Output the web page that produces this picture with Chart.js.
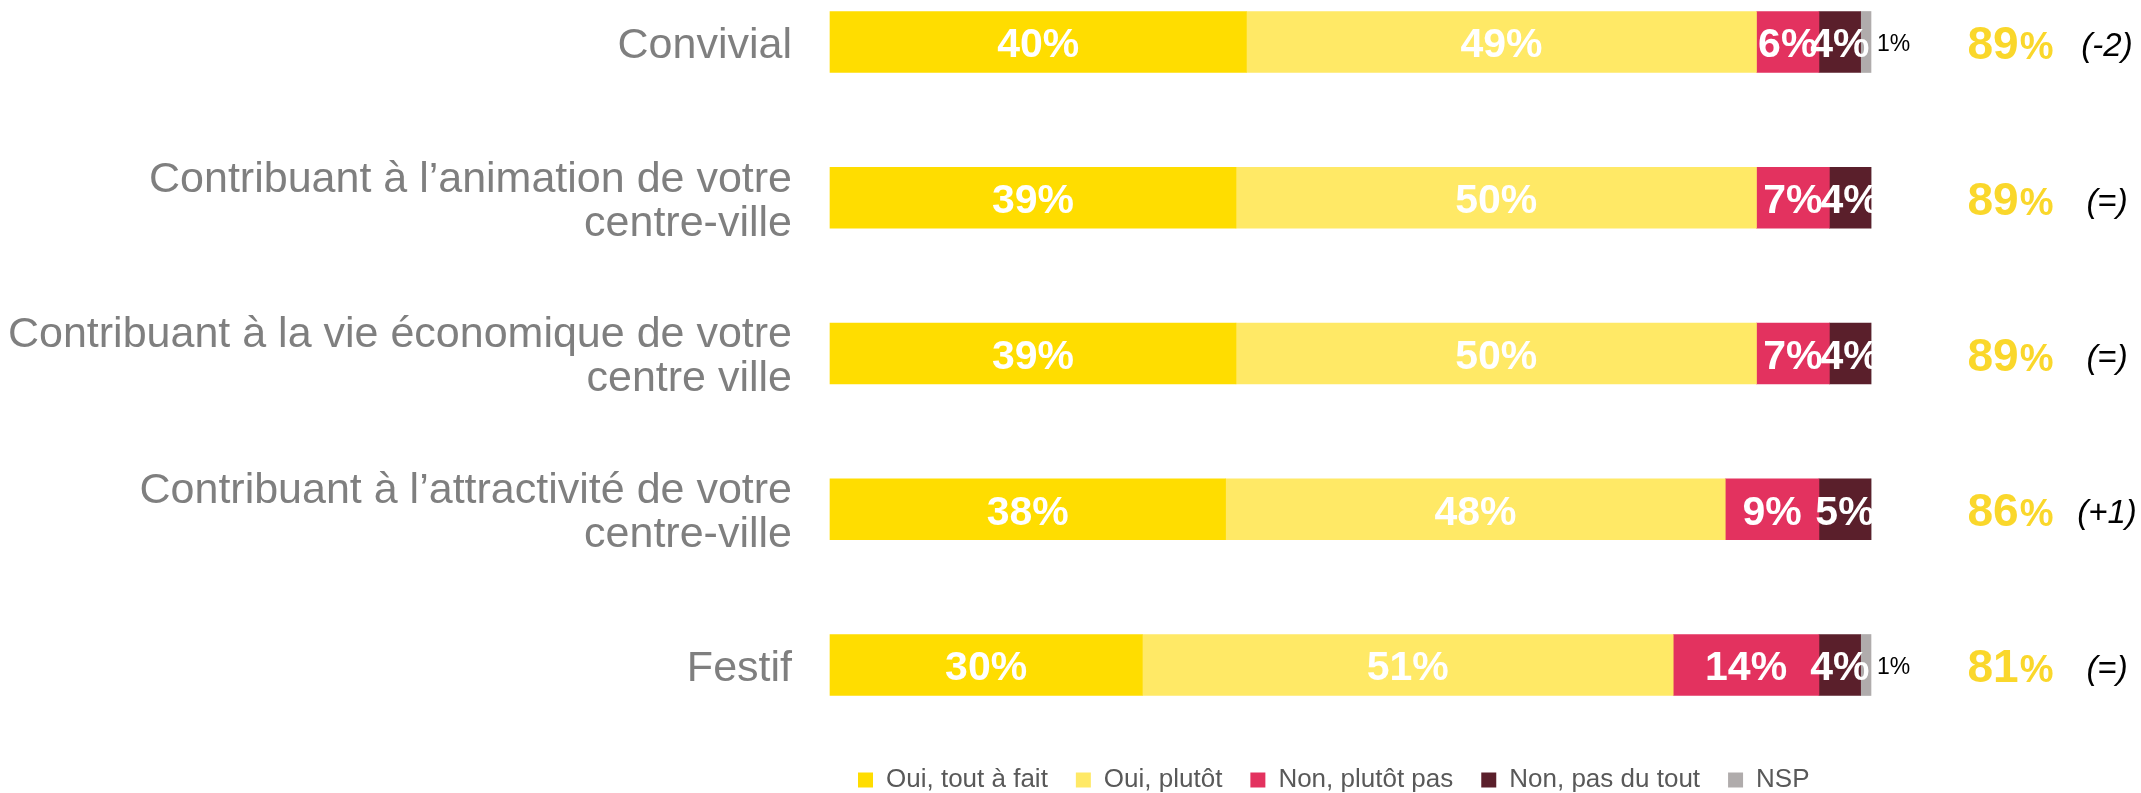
<!DOCTYPE html>
<html>
<head>
<meta charset="utf-8">
<title>Perception du centre-ville</title>
<script src="https://cdn.jsdelivr.net/npm/chart.js@4.4.1/dist/chart.umd.min.js"></script>
<style>
  html, body { margin: 0; padding: 0; background: #fff; }
</style>
</head>
<body>
<canvas id="chart" width="2141" height="793"></canvas>
<script>
// Categories (multi-line labels as arrays)
const categories = [
  'Convivial',
  ['Contribuant à l’animation de votre', 'centre-ville'],
  ['Contribuant à la vie économique de votre', 'centre ville'],
  ['Contribuant à l’attractivité de votre', 'centre-ville'],
  'Festif'
];

const seriesNames = ['Oui, tout à fait', 'Oui, plutôt', 'Non, plutôt pas', 'Non, pas du tout', 'NSP'];
const ouiToutAFait = [40, 39, 39, 38, 30];
const ouiPlutot = [49, 50, 50, 48, 51];
const nonPlutotPas = [6, 7, 7, 9, 14];
const nonPasDuTout = [4, 4, 4, 5, 4];
const nsp = [1, 0, 0, 0, 1];

// Right-hand column: total "Oui" and evolution
const totalOui = [89, 89, 89, 86, 81];
const evolution = ['(-2)', '(=)', '(=)', '(+1)', '(=)'];

const colors = ['#FFDD00', '#FFE966', '#E3325F', '#5A1F2B', '#B0ACAC'];
const seriesValues = [ouiToutAFait, ouiPlutot, nonPlutotPas, nonPasDuTout, nsp];

const FONT = '"Liberation Sans", Arial, sans-serif';

// Draw value labels on the bars + totals on the right
const barLabels = {
  id: 'barLabels',
  afterDatasetsDraw(chart) {
    const ctx = chart.ctx;
    ctx.save();
    chart.data.datasets.forEach((ds, d) => {
      const meta = chart.getDatasetMeta(d);
      meta.data.forEach((bar, i) => {
        const v = ds.data[i];
        if (!v) return;
        const p = bar.getProps(['x', 'y', 'base'], true);
        ctx.textBaseline = 'middle';
        if (d === 4) {
          // NSP: small black label outside the bar
          ctx.font = '23px ' + FONT;
          ctx.fillStyle = '#000';
          ctx.textAlign = 'left';
          ctx.fillText(v + '%', p.x + 6, p.y + 3);
        } else {
          ctx.font = 'bold 41px ' + FONT;
          ctx.fillStyle = '#fff';
          ctx.textAlign = 'center';
          ctx.fillText(v + '%', (p.x + p.base) / 2, p.y + 4);
        }
      });
    });

    const yScale = chart.scales.y;
    const right = chart.chartArea.right;
    totalOui.forEach((t, i) => {
      const y = yScale.getPixelForValue(i);
      // big number + smaller percent sign, same baseline
      const num = String(t);
      ctx.textAlign = 'left';
      ctx.textBaseline = 'alphabetic';
      ctx.font = 'bold 46px ' + FONT;
      const wNum = ctx.measureText(num).width;
      ctx.font = 'bold 38px ' + FONT;
      const wPct = ctx.measureText('%').width;
      const x0 = right + 139 - (wNum + wPct) / 2;
      ctx.fillStyle = '#FAD72B';
      ctx.font = 'bold 46px ' + FONT;
      ctx.fillText(num, x0, y + 17);
      ctx.font = 'bold 38px ' + FONT;
      ctx.fillText('%', x0 + wNum + 1, y + 17);

      ctx.fillStyle = '#000';
      ctx.textAlign = 'center';
      ctx.textBaseline = 'middle';
      ctx.font = 'italic 33px ' + FONT;
      ctx.fillText(evolution[i], right + 236, y + 5);
    });
    ctx.restore();
  }
};

new Chart(document.getElementById('chart'), {
  type: 'bar',
  data: {
    labels: categories,
    datasets: seriesNames.map((name, k) => ({
      label: name,
      data: seriesValues[k],
      backgroundColor: colors[k],
      borderWidth: 0,
      barThickness: 61,
      clip: false
    }))
  },
  options: {
    indexAxis: 'y',
    responsive: false,
    animation: false,
    layout: { padding: { top: 42, right: 270, bottom: -10, left: 0 } },
    scales: {
      x: {
        stacked: true,
        min: 0,
        max: 100,
        grid: { display: false, drawTicks: false },
        border: { display: false },
        ticks: { display: false },
        afterFit(scale) { scale.height = 74; }
      },
      y: {
        stacked: true,
        offset: false,
        grid: { display: false, drawTicks: false },
        border: { display: false },
        ticks: {
          autoSkip: false,
          padding: 38,
          labelOffset: 4,
          color: '#7F7F7F',
          font: { family: FONT, size: 43, lineHeight: 1.02 }
        },
        afterFit(scale) {
          scale.width = 830;
          // the first/last labels must not push the plot area in
          scale.paddingTop = 0;
          scale.paddingBottom = 0;
        }
      }
    },
    plugins: {
      legend: {
        position: 'bottom',
        align: 'start',
        fullSize: false,
        labels: {
          boxWidth: 15,
          boxHeight: 15,
          padding: 28,
          color: '#595959',
          font: { family: FONT, size: 26 }
        }
      },
      tooltip: { enabled: false }
    }
  },
  plugins: [barLabels]
});
</script>
</body>
</html>
